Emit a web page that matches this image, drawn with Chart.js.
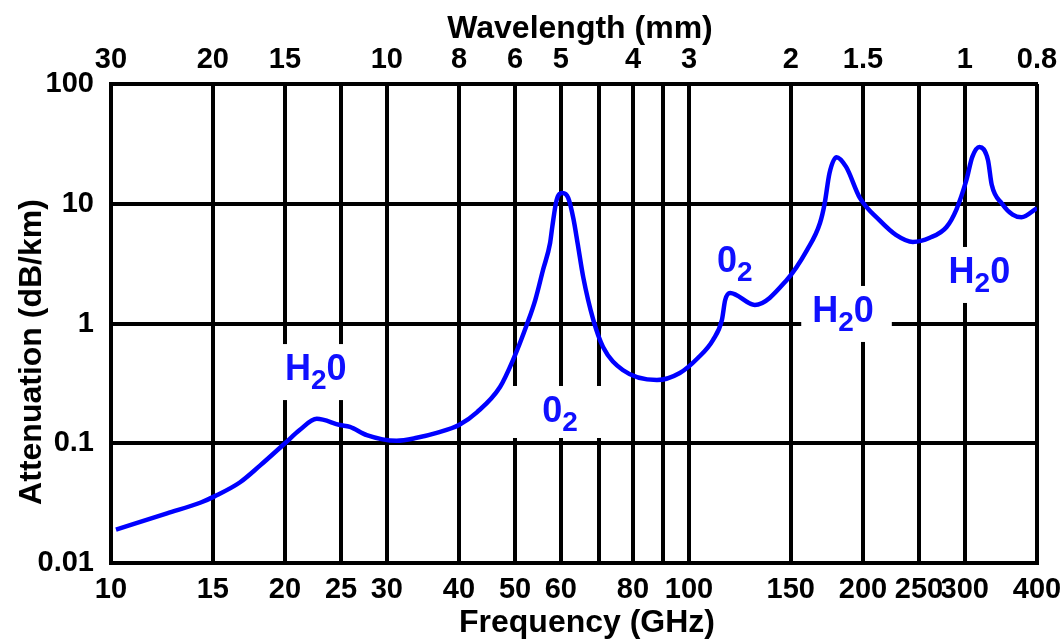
<!DOCTYPE html>
<html>
<head>
<meta charset="utf-8">
<script src="https://cdn.jsdelivr.net/npm/chart.js@4/dist/chart.umd.min.js"></script>
<style>
  html, body { margin: 0; padding: 0; background: #ffffff; }
  canvas { display: block; }
</style>
</head>
<body>
<canvas id="c" width="1063" height="642"></canvas>
<script>
// ---- data ----
const frequencyGHz = [10.2, 12.5, 14.3, 15.1, 16.7, 18.1, 20, 21.2, 22.7, 24.9, 25.9, 27.7, 31.2, 33.8, 36.6, 40, 43, 47.1, 49.6, 52.5, 54.2, 55.9, 57.5, 58.0, 59.0, 60.4, 61.8, 63.1, 64.2, 65.6, 68.3, 71, 76.8, 88, 96.4, 103.6, 110, 114, 115.5, 117.8, 130, 147.5, 160, 168.5, 171.7, 175, 180, 187, 197.5, 213.5, 228, 244, 261, 279, 290, 302, 309, 318, 329, 334, 348, 363, 376, 400];
const attenuationDbKm = [0.019, 0.026, 0.032, 0.036, 0.047, 0.065, 0.1, 0.129, 0.16, 0.142, 0.137, 0.117, 0.105, 0.111, 0.122, 0.142, 0.182, 0.295, 0.495, 1.0, 1.57, 2.8, 4.7, 6.4, 10.7, 12.3, 11.2, 7.5, 4.6, 2.45, 1.07, 0.637, 0.409, 0.337, 0.386, 0.515, 0.728, 1.07, 1.57, 1.8, 1.43, 2.3, 4.1, 6.9, 10.1, 18, 24.5, 20.3, 11.2, 7.3, 5.5, 4.8, 5.2, 6.4, 8.9, 15.8, 24.5, 29.8, 23.2, 14.4, 10, 8.1, 7.7, 9.2];

const freqGridValues = [10, 15, 20, 25, 30, 40, 50, 60, 70, 80, 90, 100, 150, 200, 250, 300, 400];
const freqTickLabels = ['10', '15', '20', '25', '30', '40', '50', '60', '', '80', '', '100', '150', '200', '250', '300', '400'];
const wavelengthTickFreqs = [10, 15, 20, 30, 40, 50, 60, 80, 100, 150, 200, 300, 400];
const wavelengthTickLabels = ['30', '20', '15', '10', '8', '6', '5', '4', '3', '2', '1.5', '1', '0.8'];
const attTickValues = [0.01, 0.1, 1, 10, 100];
const attTickLabels = ['0.01', '0.1', '1', '10', '100'];

// absorption line labels (main text, subscript, trailing text, anchor freq, anchor attenuation)
const labelPre  = ['H', '0', '0', 'H', 'H'];
const labelSub  = ['2', '2', '2', '2', '2'];
const labelPost = ['0', '', '', '0', '0'];
const labelFreq = [22.6, 59.8, 120, 184.7, 318];
const labelAtt  = [0.337, 0.1505, 2.69, 1.03, 2.18];

const xTitle = 'Frequency (GHz)';
const x2Title = 'Wavelength (mm)';
const yTitle = 'Attenuation (dB/km)';

// ---- styles ----
const FAMILY = "'Liberation Sans', Arial, Helvetica, sans-serif";
const tickFont = { family: FAMILY, size: 29, weight: 'bold' };
const labelBlue = '#1010ff';
// [left pad, right pad, top pad, bottom pad] of the white mask behind each label
const labelPad = [[12, 12, 36, 20], [34, 32, 36, 16], [12, 12, 36, 20], [11, 18, 36, 20], [12, 14, 36, 20]];

function labelGeom(ctx, i, xs, ys) {
  const cx = xs.getPixelForValue(labelFreq[i]);
  const by = ys.getPixelForValue(labelAtt[i]);
  ctx.font = 'bold 36px ' + FAMILY;
  const w1 = ctx.measureText(labelPre[i]).width;
  const w3 = labelPost[i] ? ctx.measureText(labelPost[i]).width : 0;
  ctx.font = 'bold 28px ' + FAMILY;
  const w2 = ctx.measureText(labelSub[i]).width;
  const W = w1 + w2 + w3;
  return { cx, by, left: cx - W / 2, w1, w2, w3, W };
}

const decorPlugin = {
  id: 'decor',
  beforeDatasetsDraw(chart) {
    const ctx = chart.ctx, xs = chart.scales.x, ys = chart.scales.y;
    ctx.save();
    ctx.fillStyle = '#ffffff';
    for (let i = 0; i < labelPre.length; i++) {
      const g = labelGeom(ctx, i, xs, ys);
      const [pl, pr, pt, pb] = labelPad[i];
      ctx.fillRect(g.left - pl, g.by - pt, g.W + pl + pr, pt + pb);
    }
    ctx.restore();
  },
  afterDatasetsDraw(chart) {
    const ctx = chart.ctx, xs = chart.scales.x, ys = chart.scales.y;
    ctx.save();
    ctx.fillStyle = labelBlue;
    ctx.textBaseline = 'alphabetic';
    ctx.textAlign = 'left';
    for (let i = 0; i < labelPre.length; i++) {
      const g = labelGeom(ctx, i, xs, ys);
      ctx.font = 'bold 36px ' + FAMILY;
      ctx.fillText(labelPre[i], g.left, g.by);
      ctx.font = 'bold 28px ' + FAMILY;
      ctx.fillText(labelSub[i], g.left + g.w1, g.by + 9);
      if (labelPost[i]) {
        ctx.font = 'bold 36px ' + FAMILY;
        ctx.fillText(labelPost[i], g.left + g.w1 + g.w2, g.by);
      }
    }
    // axis titles
    ctx.fillStyle = '#000000';
    ctx.font = 'bold 32px ' + FAMILY;
    ctx.textAlign = 'center';
    ctx.fillText(x2Title, 580, 38);
    ctx.fillText(xTitle, 587, 632);
    ctx.translate(41, 352);
    ctx.rotate(-Math.PI / 2);
    ctx.fillText(yTitle, 0, 0);
    ctx.restore();
  }
};

new Chart(document.getElementById('c'), {
  type: 'line',
  data: {
    datasets: [{
      data: frequencyGHz.map((f, i) => ({ x: f, y: attenuationDbKm[i] })),
      borderColor: '#0000ff',
      borderWidth: 4.5,
      pointRadius: 0,
      cubicInterpolationMode: 'monotone',
      fill: false
    }]
  },
  options: {
    responsive: false,
    animation: false,
    events: [],
    layout: { padding: { left: 0, right: 26, top: 0, bottom: 0 } },
    plugins: { legend: { display: false }, tooltip: { enabled: false } },
    scales: {
      x: {
        type: 'logarithmic', position: 'bottom', min: 10, max: 400,
        afterBuildTicks: s => { s.ticks = freqGridValues.map(v => ({ value: v })); },
        afterFit: s => { s.height = 79; s.paddingLeft = 0; s.paddingRight = 0; },
        grid: { color: '#000', lineWidth: 4, drawTicks: false },
        border: { display: true, color: '#000', width: 4 },
        ticks: { autoSkip: false, maxRotation: 0, minRotation: 0, padding: 10, color: '#000', font: tickFont,
                 callback: (v, i) => freqTickLabels[i] }
      },
      x2: {
        type: 'logarithmic', position: 'top', min: 10, max: 400,
        afterBuildTicks: s => { s.ticks = wavelengthTickFreqs.map(v => ({ value: v })); },
        afterFit: s => { s.height = 84; s.paddingLeft = 0; s.paddingRight = 0; },
        grid: { display: false, drawTicks: false },
        border: { display: true, color: '#000', width: 4 },
        ticks: { autoSkip: false, maxRotation: 0, minRotation: 0, padding: 7, color: '#000', font: tickFont,
                 callback: (v, i) => wavelengthTickLabels[i] }
      },
      y: {
        type: 'logarithmic', position: 'left', min: 0.01, max: 100,
        afterBuildTicks: s => { s.ticks = attTickValues.map(v => ({ value: v })); },
        afterFit: s => { s.width = 111; s.paddingTop = 0; s.paddingBottom = 0; },
        grid: { color: '#000', lineWidth: 4, drawTicks: false },
        border: { display: true, color: '#000', width: 4 },
        ticks: { autoSkip: false, padding: 17, color: '#000', font: tickFont,
                 callback: (v, i) => attTickLabels[i] }
      }
    }
  },
  plugins: [decorPlugin]
});
</script>
</body>
</html>
